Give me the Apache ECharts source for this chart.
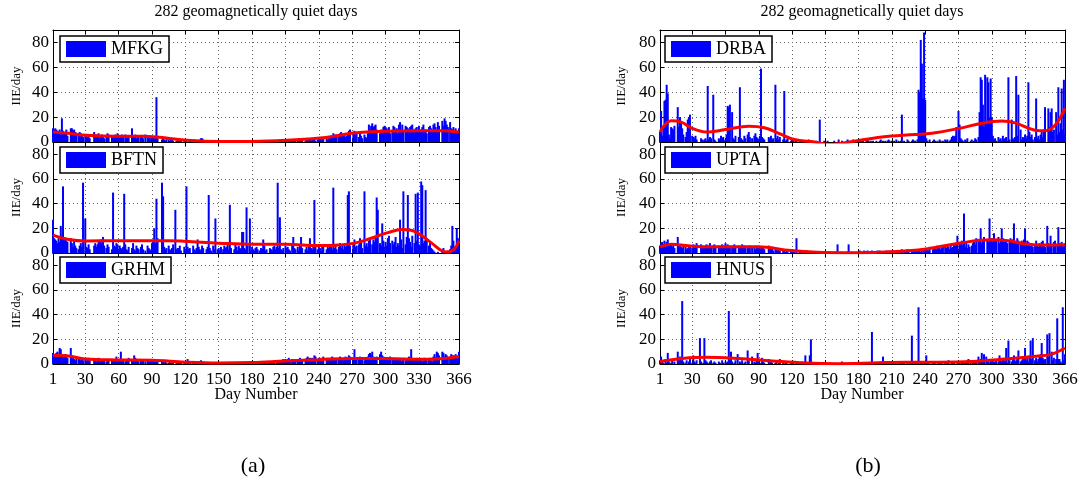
<!DOCTYPE html>
<html><head><meta charset="utf-8">
<script src="https://cdn.jsdelivr.net/npm/echarts@6/dist/echarts.min.js"></script>
<style>html,body{margin:0;padding:0;background:#fff}#c{width:1086px;height:484px}</style>
</head><body><div id="c"></div><script>
const xTickLabels = [1,30,60,90,120,150,180,210,240,270,300,330,366];
const xGridDays = [30,60,90,120,150,180,210,240,270,300,330];
const yTicks = [0,20,40,60,80];
const titleText = '282 geomagnetically quiet days';
const xName = 'Day Number';
const yName = 'IIE/day';

const MFKG = [
11,10,11,10,9,8,10,6,19,9,8,7,10,5,0,0,11,11,9,10,8,6,0,5,8,7,6,4,0,5,
5,4,6,3,0,0,0,8,5,6,4,7,3,5,6,4,3,0,5,7,6,0,0,4,3,5,6,4,7,5,
5,4,6,4,0,6,3,5,4,0,0,11,5,4,6,3,5,4,0,5,4,3,0,6,0,4,3,5,2,4,
5,3,4,36,3,0,0,0,2,3,2,1,3,0,2,1,2,3,1,0,0,1,2,1,2,1,0,0,1,2,
1,0,0,1,0,0,1,2,1,0,0,1,2,3,3,2,0,0,1,0,0,0,1,0,0,0,0,1,0,0,
0,0,0,0,1,0,0,0,0,0,0,0,0,0,0,0,0,0,1,0,0,0,0,0,0,1,1,0,1,1,
1,0,1,1,1,0,1,1,0,1,1,1,0,0,1,0,1,1,1,1,0,1,1,1,2,1,0,1,2,2,
1,2,1,1,0,2,2,1,1,0,1,3,3,2,3,0,0,1,2,2,1,2,1,2,2,3,1,0,2,3,
3,2,4,3,0,0,4,2,3,3,5,4,7,6,5,6,0,4,7,8,5,6,6,4,5,7,9,10,0,0,
7,9,6,8,0,4,8,5,3,0,6,4,3,7,14,10,13,15,12,13,14,10,0,0,7,10,9,12,13,12,
11,10,12,7,0,8,13,12,10,11,7,14,16,10,14,9,0,13,12,11,8,12,13,14,8,10,11,12,9,13,
10,9,12,14,8,10,7,0,12,13,11,9,14,15,12,10,16,13,0,0,17,13,19,17,14,12,0,16,11,10,
12,9,11,8,9,11];
const BFTN = [
27,12,11,10,8,12,9,22,14,54,13,11,10,9,0,0,12,8,5,11,6,4,0,3,6,8,5,57,0,28,
5,4,7,3,0,0,0,6,8,5,7,9,10,11,8,13,6,0,4,7,5,0,0,3,49,6,5,8,7,3,
6,4,3,5,48,7,3,2,5,0,0,4,8,3,2,6,4,3,0,5,7,3,0,2,0,6,4,3,2,8,
10,20,8,44,12,0,0,0,57,46,5,3,4,0,6,3,2,4,7,0,35,3,4,4,6,2,0,0,5,3,
54,5,3,4,0,0,6,3,2,4,11,5,3,2,6,4,0,0,3,5,47,4,2,0,6,3,28,0,3,4,
2,5,0,3,6,4,5,8,3,39,4,0,0,3,8,5,2,6,4,3,17,17,4,3,37,6,0,28,2,5,
3,2,4,5,3,0,2,4,3,11,6,2,3,0,0,4,3,2,5,6,3,5,57,4,29,3,2,4,0,6,
4,5,3,2,0,6,13,4,3,0,5,2,6,13,4,0,0,3,5,2,6,12,4,3,6,43,5,0,3,6,
4,2,5,6,0,0,3,5,4,6,5,3,53,4,6,3,0,5,8,4,6,3,7,5,6,47,50,6,0,0,
8,11,5,6,0,7,12,9,4,0,50,6,8,5,10,12,0,7,11,9,13,45,35,0,8,6,24,10,5,9,
6,12,14,8,0,10,7,9,13,5,8,6,27,11,4,50,0,7,13,47,12,9,5,14,0,8,48,10,49,7,
6,58,55,8,10,51,12,0,6,9,4,3,2,1,0,0,1,0,0,0,1,4,0,0,0,2,0,3,6,22,
10,5,3,20,12,5];
const GRHM = [
9,8,8,9,10,7,13,12,8,6,7,8,6,5,0,0,13,5,6,4,3,5,0,4,5,3,4,3,0,4,
3,4,5,3,0,0,0,4,3,2,4,5,3,2,3,4,3,0,2,3,4,0,0,3,2,3,4,6,3,4,
3,10,4,3,0,2,3,4,5,0,0,3,4,7,5,4,3,2,0,3,4,3,0,2,0,3,4,2,3,4,
3,2,3,4,2,0,0,0,3,2,1,2,1,0,1,2,1,1,1,0,0,1,2,1,1,1,0,0,1,2,
1,4,1,1,0,0,1,2,1,0,0,1,1,3,2,1,0,0,1,0,0,1,0,0,0,0,0,0,1,0,
0,0,0,0,1,0,0,0,0,0,0,0,1,0,0,0,0,0,1,0,0,0,0,1,1,1,1,0,1,1,
1,2,1,2,1,0,2,1,2,1,1,2,1,0,2,1,2,1,2,2,0,1,2,3,2,3,3,4,3,4,
3,4,5,3,0,4,3,4,3,0,3,4,5,3,4,0,0,4,5,6,4,5,3,5,4,7,6,0,4,5,
4,5,3,6,0,0,4,5,3,4,5,6,4,3,5,4,0,5,6,5,4,3,5,6,4,5,7,6,0,0,
5,12,4,5,0,4,6,5,4,0,3,5,4,6,8,9,7,10,6,5,4,6,0,0,8,10,7,6,5,4,
4,5,3,6,0,4,5,3,4,5,4,3,5,2,4,5,0,3,4,5,6,4,12,5,4,3,4,5,3,4,
3,4,2,3,5,4,3,0,4,5,3,2,6,8,5,10,9,7,0,0,10,9,6,8,7,5,0,6,8,7,
7,5,8,6,4,10];
const DRBA = [
8,25,5,12,33,34,46,39,6,3,12,11,10,13,0,0,28,12,20,15,11,6,0,4,8,18,20,22,0,5,
4,3,5,2,0,0,0,3,2,1,2,3,1,45,2,4,3,0,38,2,1,0,0,3,2,5,3,4,1,2,
6,29,28,30,0,24,3,2,5,0,0,4,44,3,2,1,5,3,0,6,8,4,0,3,0,5,7,4,3,2,
5,59,4,3,2,0,0,0,4,3,5,2,3,0,46,3,5,2,4,0,0,2,41,1,2,3,0,0,1,2,
1,0,1,2,0,0,1,0,1,0,0,1,0,1,2,0,0,0,1,0,0,1,0,0,18,0,0,0,1,0,
0,1,0,0,0,0,0,1,0,0,0,2,0,0,1,0,0,0,0,2,1,0,0,1,2,0,0,1,0,1,
2,1,0,1,0,0,1,2,1,0,1,0,1,0,0,1,0,0,1,2,0,1,0,1,0,1,2,1,0,1,
0,1,0,2,0,1,0,1,22,0,1,0,0,2,1,0,0,1,2,1,1,0,2,42,40,82,63,35,88,34,
3,1,0,2,0,0,1,2,1,0,1,0,2,1,0,1,0,2,1,2,0,1,2,4,5,4,5,12,0,25,
14,3,2,1,0,2,1,3,0,0,1,2,0,1,3,2,0,4,24,52,50,30,12,54,15,52,48,20,51,20,
5,2,3,1,0,4,2,3,1,5,2,3,4,1,52,2,0,18,3,2,4,53,5,38,0,10,2,4,3,6,
3,5,48,8,4,6,2,0,4,35,3,5,2,6,8,4,10,28,0,0,27,12,24,27,8,10,0,24,6,44,
8,15,43,10,50,6];
const UPTA = [
6,8,9,7,10,5,9,11,8,6,7,5,8,4,0,0,13,6,7,5,4,6,0,5,3,4,6,5,0,4,
7,6,5,8,0,0,0,7,6,5,4,6,7,5,6,8,5,0,6,7,5,0,0,6,5,4,7,6,5,8,
5,7,6,4,0,5,6,7,5,0,0,6,5,4,7,5,6,5,0,4,5,6,0,5,0,4,3,5,4,6,
4,3,5,4,3,0,0,0,6,3,4,5,2,0,3,4,2,3,2,0,0,3,2,1,2,1,0,0,1,2,
2,1,0,12,0,0,1,2,1,0,0,1,2,1,0,1,0,0,1,0,0,1,0,0,0,0,0,0,1,0,
0,0,0,1,0,0,0,0,0,0,7,0,0,1,0,0,0,0,1,0,7,0,0,1,0,0,0,1,0,1,
2,1,0,1,2,0,1,2,1,0,1,2,1,0,0,1,2,1,2,1,0,1,0,1,2,1,1,2,0,1,
1,2,1,2,0,1,2,1,3,0,2,1,2,3,1,0,0,2,1,3,2,1,2,3,2,1,2,0,3,2,
4,3,2,5,0,0,3,4,5,3,6,4,5,3,4,6,0,5,4,6,5,3,6,4,5,7,6,8,14,0,
9,8,10,6,32,5,9,4,7,5,0,6,8,10,7,12,0,9,11,20,8,10,13,0,0,11,9,28,10,12,
9,16,11,10,0,13,8,10,20,12,9,11,10,8,0,9,12,10,11,24,9,8,12,10,0,9,10,8,11,20,
8,10,9,7,6,8,5,0,7,10,6,5,8,7,9,10,6,5,0,22,8,7,14,6,0,9,10,0,7,21,
8,6,9,7,5,8];
const HNUS = [
3,6,2,1,0,4,1,9,2,0,1,3,0,2,0,0,10,4,6,3,51,2,0,1,3,0,2,4,0,1,
7,2,1,3,0,0,21,2,0,1,21,3,2,1,0,2,3,0,1,2,1,0,0,2,1,0,3,1,0,2,
1,2,43,3,10,2,0,1,3,0,8,0,2,1,3,0,1,2,0,11,3,0,0,6,0,2,1,3,9,2,
1,0,5,2,1,0,0,0,4,1,2,1,0,0,1,2,0,1,4,0,0,1,0,1,2,0,0,0,1,0,
1,0,0,2,0,0,1,0,2,0,0,7,1,0,1,7,20,0,1,0,0,0,1,0,0,0,0,0,0,1,
0,0,0,1,0,0,0,0,0,0,0,0,0,1,2,0,1,0,0,0,0,0,0,1,0,0,0,0,0,1,
0,1,0,0,1,0,0,0,1,0,1,26,0,0,0,1,0,0,1,0,1,6,1,0,0,1,0,1,0,0,
1,0,2,0,0,1,0,2,1,0,1,0,0,1,0,2,0,23,1,0,2,1,0,46,0,1,2,0,1,0,
7,2,1,0,0,0,1,2,1,0,0,1,2,0,1,0,0,1,2,1,3,0,0,1,2,1,0,0,1,2,
1,0,1,2,0,2,1,3,4,0,1,0,2,1,2,3,0,6,2,4,9,3,8,0,6,3,2,1,4,2,
3,1,2,4,0,2,7,3,2,4,3,2,13,1,19,3,0,2,4,7,2,3,5,11,0,2,3,4,6,13,
3,5,2,7,19,4,21,0,3,5,2,4,6,8,17,5,3,4,0,24,6,25,0,10,3,5,0,4,37,4,
4,2,1,46,3,8];

const MFKG_fit = [[1,8],[15,7],[31,5.4],[58,4.6],[82,4.6],[94,4],[121,1.4],[151,0.4],[180,0.5],[211,1.4],[241,3.2],[256,5],[271,7.2],[286,8.2],[301,8.7],[331,9],[350,9],[366,8]];
const BFTN_fit = [[1,14.5],[15,11],[31,9.8],[60,10],[90,10],[105,10],[120,9.5],[150,8],[180,7],[210,7],[240,6],[258,6.5],[272,8],[287,12],[302,16.5],[315,19],[326,17.5],[340,9],[350,2],[356,0.8],[362,3.5],[366,10]];
const GRHM_fit = [[1,7],[15,6.5],[30,4],[60,3.3],[90,3],[120,1.5],[150,0.8],[180,1.2],[210,2.5],[240,3.5],[270,4.5],[300,4.5],[330,3.8],[345,4],[366,6]];
const DRBA_fit = [[1,8],[11,17],[20,16],[30,11],[43,8],[60,10],[81,12.7],[95,11.5],[108,7],[122,2],[140,0],[155,-2],[172,0],[201,4],[231,6],[246,7],[270,10.8],[291,15],[309,16.8],[321,15.4],[339,9.5],[348,9],[357,13.5],[366,27]];
const UPTA_fit = [[1,5],[11,7],[30,5.5],[50,5],[89,5],[119,2],[149,0.5],[180,0.3],[209,1],[239,3],[269,7.7],[299,10.7],[315,10],[329,7.5],[345,6.5],[366,6.6]];
const HNUS_fit = [[1,2],[27,5],[42,5.5],[72,4.5],[102,2.5],[132,0.8],[162,0.3],[192,0.8],[222,1.5],[252,1.5],[282,2],[312,4],[342,6.5],[354,8],[366,13]];

const stationNames = ['MFKG','BFTN','GRHM','DRBA','UPTA','HNUS'];
const stationBars = [MFKG,BFTN,GRHM,DRBA,UPTA,HNUS];
const stationFits = [MFKG_fit,BFTN_fit,GRHM_fit,DRBA_fit,UPTA_fit,HNUS_fit];

const FONT = "'Liberation Serif','Times New Roman',serif";
const colLeft = [53, 660];
const colWidth = [406, 405];
const rowTop = [30, 142, 253];
const rowHeight = [112, 111, 111];
const legendLeft = [60, 665];
const legendTop = [36, 147, 257];

const grids = [], xAxes = [], yAxes = [], series = [], legends = [];
const gridDot = {color:'#666', type:[1,3], width:1};
for (let i = 0; i < 6; i++) {
  const col = Math.floor(i / 3), row = i % 3;
  const isBottom = row === 2;
  grids.push({left: colLeft[col], width: colWidth[col], top: rowTop[row], height: rowHeight[row]});
  xAxes.push({type:'value', gridIndex:i, position:'bottom', min:1, max:366,
    axisLine:{show:true, onZero:false, lineStyle:{color:'#000', width:1}},
    axisTick:{show:true, inside:true, length:4, customValues:xGridDays, lineStyle:{color:'#000'}},
    axisLabel:{show:isBottom, customValues:xTickLabels, fontSize:17, fontFamily:FONT, color:'#000', margin:7},
    splitLine:{show:true, lineStyle:gridDot}});
  xAxes.push({type:'value', gridIndex:i, position:'top', min:1, max:366,
    axisLine:{show:true, onZero:false, lineStyle:{color:'#000', width:1}},
    axisTick:{show:true, inside:true, length:4, customValues:xGridDays, lineStyle:{color:'#000'}},
    axisLabel:{show:false}, splitLine:{show:false}});
  yAxes.push({type:'value', gridIndex:i, position:'left', min:0, max:90,
    name:yName, nameLocation:'middle', nameGap: col === 0 ? 30 : 32, nameRotate:90,
    nameTextStyle:{fontSize:13, fontFamily:FONT, color:'#000'},
    axisLine:{show:true, onZero:false, lineStyle:{color:'#000', width:1}},
    axisTick:{show:true, inside:true, length:4, customValues:yTicks, lineStyle:{color:'#000'}},
    axisLabel:{show:true, customValues:yTicks, fontSize:17, fontFamily:FONT, color:'#000', margin:4},
    splitLine:{show:true, lineStyle:gridDot}});
  yAxes.push({type:'value', gridIndex:i, position:'right', min:0, max:90,
    axisLine:{show:true, onZero:false, lineStyle:{color:'#000', width:1}},
    axisTick:{show:true, inside:true, length:4, customValues:yTicks, lineStyle:{color:'#000'}},
    axisLabel:{show:false}, splitLine:{show:false}});
  series.push({type:'bar', name:stationNames[i], xAxisIndex:2*i, yAxisIndex:2*i,
    data: stationBars[i].map((v, k) => [k + 1, v]),
    barWidth:2, itemStyle:{color:'#0000ff'}, silent:true, z:2});
  series.push({type:'line', name:stationNames[i] + ' fit', xAxisIndex:2*i, yAxisIndex:2*i,
    data: stationFits[i], smooth:0.4, showSymbol:false, symbol:'none', clip:true,
    lineStyle:{color:'#ff0000', width:3}, silent:true, z:3});
  legends.push({data:[stationNames[i]], left:legendLeft[col], top:legendTop[row],
    icon:'rect', itemWidth:40, itemHeight:16, itemGap:5,
    padding:[4,6,4,6], borderColor:'#000', borderWidth:1.5, backgroundColor:'#fff',
    textStyle:{fontSize:18, fontFamily:FONT, color:'#000'}, selectedMode:false});
}

const graphics = [];
[256, 862].forEach(cx => {
  graphics.push({type:'text', x:cx, y:12, style:{text:titleText, fontSize:16, fontFamily:FONT, fill:'#000', align:'center', verticalAlign:'middle'}});
  graphics.push({type:'text', x:cx, y:395, style:{text:xName, fontSize:16, fontFamily:FONT, fill:'#000', align:'center', verticalAlign:'middle'}});
});
graphics.push({type:'text', x:253, y:466, style:{text:'(a)', fontSize:22, fontFamily:FONT, fill:'#000', align:'center', verticalAlign:'middle'}});
graphics.push({type:'text', x:868, y:466, style:{text:'(b)', fontSize:22, fontFamily:FONT, fill:'#000', align:'center', verticalAlign:'middle'}});

const chart = echarts.init(document.getElementById('c'), null, {renderer:'canvas'});
chart.setOption({
  animation:false, backgroundColor:'#fff',
  grid:grids, xAxis:xAxes, yAxis:yAxes, series:series, legend:legends, graphic:graphics
});
</script></body></html>
